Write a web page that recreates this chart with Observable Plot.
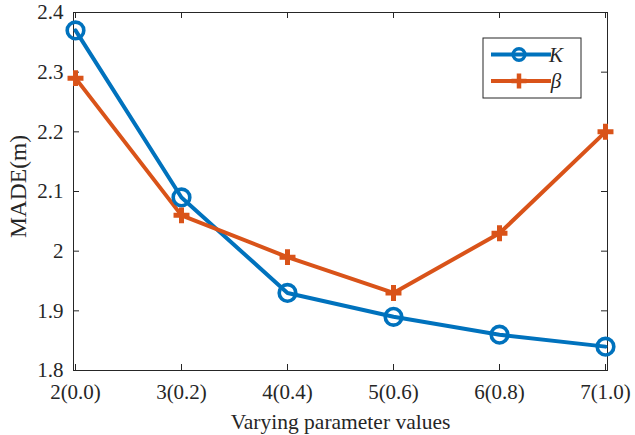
<!DOCTYPE html>
<html>
<head>
<meta charset="utf-8">
<script src="https://cdn.jsdelivr.net/npm/d3@7"></script>
<script src="https://cdn.jsdelivr.net/npm/@observablehq/plot@0.6"></script>
<style>
  html, body { margin: 0; padding: 0; background: #fff; }
  #chart { width: 635px; height: 435px; }
</style>
</head>
<body>
<div id="chart"></div>
<script>
const categories = ["2(0.0)", "3(0.2)", "4(0.4)", "5(0.6)", "6(0.8)", "7(1.0)"];
const kValues = [2.37, 2.09, 1.93, 1.89, 1.86, 1.84];
const betaValues = [2.29, 2.06, 1.99, 1.93, 2.03, 2.20];
const yTicks = [1.8, 1.9, 2.0, 2.1, 2.2, 2.3, 2.4];
const seriesNames = ["K", "β"];

const W = 635, H = 435;
const mL = 73, mR = 28, mT = 12, mB = 65;
const pw = W - mL - mR, ph = H - mT - mB;
const blue = "#0072BD", orange = "#D95319", ink = "#262626";
const font = "'Liberation Serif', 'Times New Roman', serif";

const kData = categories.map((c, i) => ({c, v: kValues[i]}));
const bData = categories.map((c, i) => ({c, v: betaValues[i]}));

const plot = Plot.plot({
  width: W, height: H,
  marginLeft: mL, marginRight: mR, marginTop: mT, marginBottom: mB,
  style: {fontFamily: font, fontSize: "21px", color: ink, background: "#fff"},
  x: {type: "point", domain: categories, padding: 0},
  y: {domain: [1.8, 2.4]},
  marks: [
    Plot.frame({stroke: ink, strokeWidth: 1}),
    // inward ticks
    Plot.ruleY(yTicks, {y: d => d, insetRight: pw - 6, stroke: ink}),
    Plot.ruleY(yTicks, {y: d => d, insetLeft: pw - 6, stroke: ink}),
    Plot.ruleX(categories, {x: d => d, insetTop: ph - 6, stroke: ink}),
    Plot.ruleX(categories, {x: d => d, insetBottom: ph - 6, stroke: ink}),
    Plot.axisY(yTicks, {tickSize: 0, tickPadding: 10, tickFormat: d => d3.format("")(+d.toFixed(1)), fontSize: 21, fill: ink, label: null}),
    Plot.axisX(categories, {tickSize: 0, tickPadding: 14, fontSize: 21, fill: ink, label: null}),
    Plot.text(["MADE(m)"], {frameAnchor: "left", textAnchor: "middle", lineAnchor: "middle", dx: -55, dy: -5, rotate: -90, fontSize: 23.5, fill: ink, text: d => d}),
    Plot.text(["Varying parameter values"], {frameAnchor: "bottom", textAnchor: "middle", lineAnchor: "bottom", dy: 58, fontSize: 21.5, fill: ink, text: d => d}),
    Plot.line(kData, {x: "c", y: "v", stroke: blue, strokeWidth: 4}),
    Plot.line(bData, {x: "c", y: "v", stroke: orange, strokeWidth: 4}),
    Plot.dot(kData, {x: "c", y: "v", r: 8.3, stroke: blue, strokeWidth: 3.6, fill: "none"}),
    Plot.dot(bData, {x: "c", y: "v", symbol: "plus", r: 5.2, stroke: orange, strokeWidth: 5})
  ]
});
document.getElementById("chart").appendChild(plot);

// Legend inside the axes (MATLAB style, top-right)
const svg = d3.select(plot);
const lg = svg.append("g").attr("transform", "translate(483,38)");
lg.append("rect").attr("width", 98).attr("height", 60).attr("fill", "#fff").attr("stroke", ink).attr("stroke-width", 1);
const rows = [
  {name: seriesNames[0], color: blue, y: 16.5, sym: "circle"},
  {name: seriesNames[1], color: orange, y: 43, sym: "plus"}
];
rows.forEach(r => {
  lg.append("line").attr("x1", 8).attr("x2", 68).attr("y1", r.y).attr("y2", r.y).attr("stroke", r.color).attr("stroke-width", 4);
  if (r.sym === "circle") {
    lg.append("circle").attr("cx", 36).attr("cy", r.y).attr("r", 5.8).attr("fill", "none").attr("stroke", r.color).attr("stroke-width", 3.6);
  } else {
    lg.append("path").attr("d", `M${36 - 7.5},${r.y}H${36 + 7.5}M36,${r.y - 7.5}V${r.y + 7.5}`).attr("stroke", r.color).attr("stroke-width", 4.5);
  }
  lg.append("text").attr("x", 73).attr("y", r.y + 7).attr("font-family", font).attr("font-style", "italic").attr("font-size", 21).attr("fill", ink).text(r.name);
});
</script>
</body>
</html>
